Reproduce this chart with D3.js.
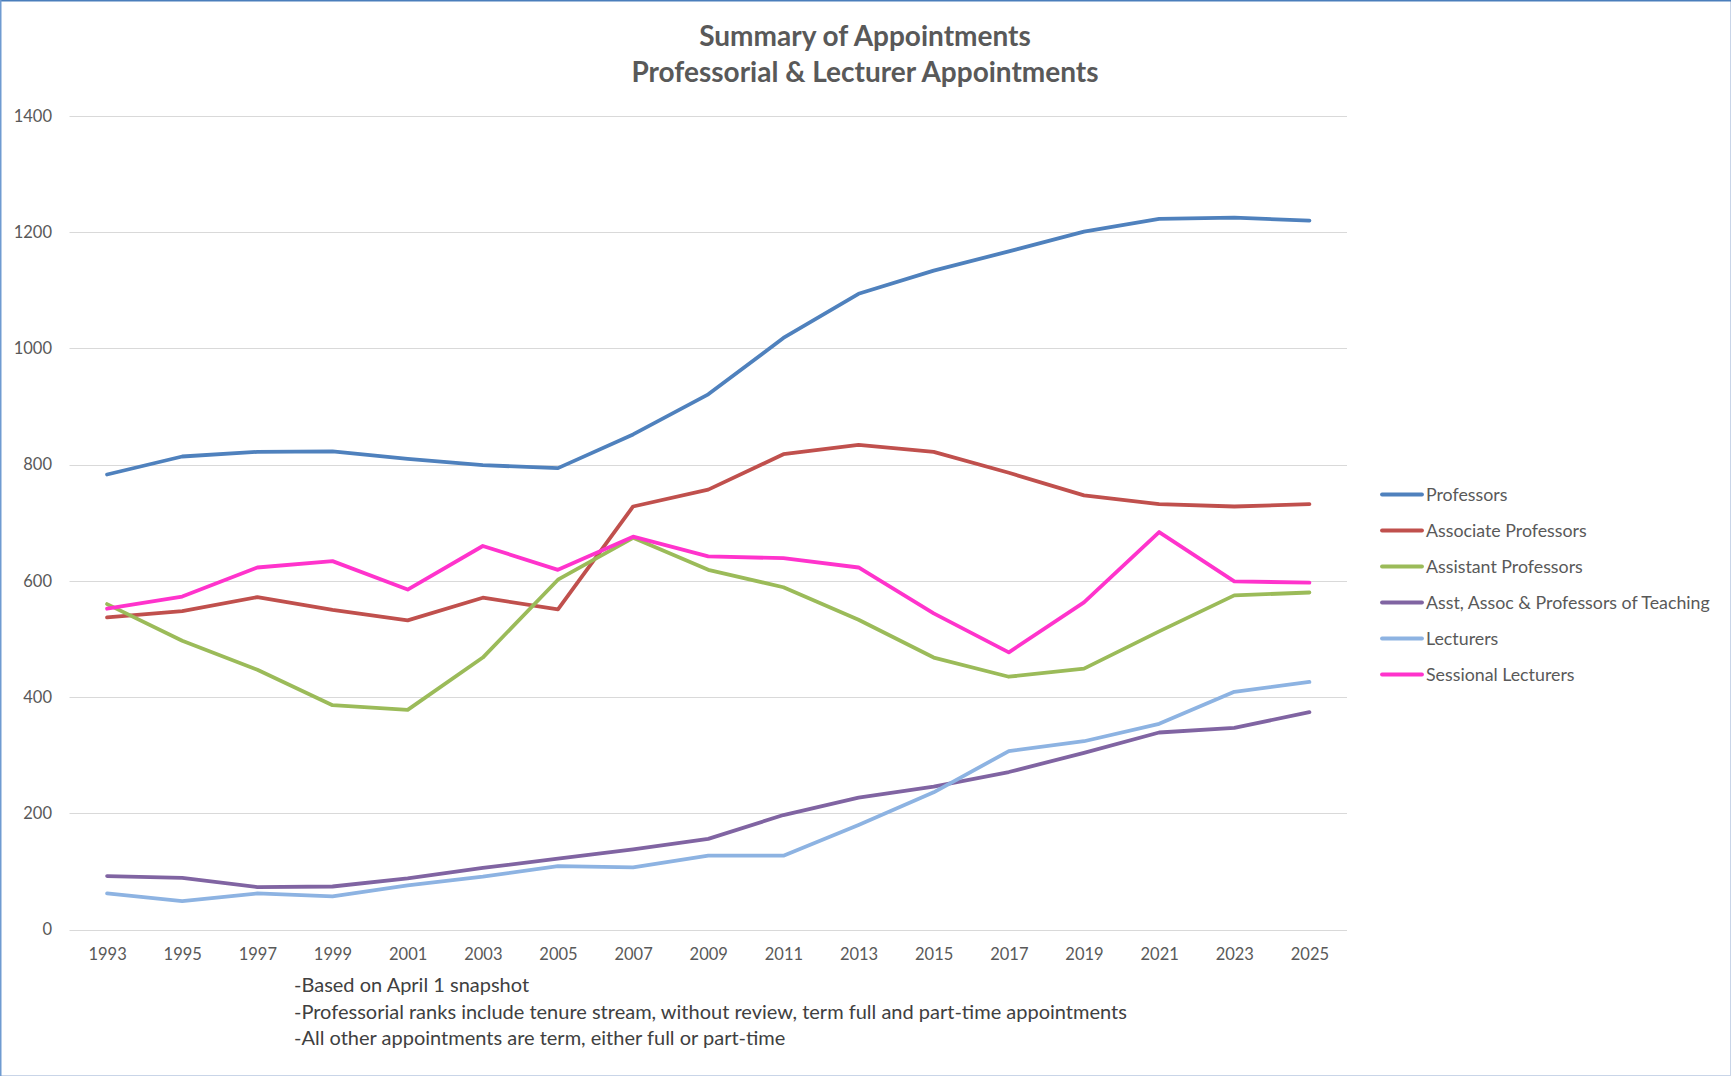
<!DOCTYPE html>
<html>
<head>
<meta charset="utf-8">
<script src="https://cdn.jsdelivr.net/npm/d3@7/dist/d3.min.js"></script>
<style>
html,body{margin:0;padding:0;background:#fff;}
svg{display:block;}
text{font-family:Lato,"Open Sans",sans-serif;}
</style>
</head>
<body>
<svg id="chart" width="1731" height="1076"></svg>
<script>
const years = ["1993","1995","1997","1999","2001","2003","2005","2007","2009","2011","2013","2015","2017","2019","2021","2023","2025"];
const yTicks = [0,200,400,600,800,1000,1200,1400];

const seriesNames = ["Professors","Associate Professors","Assistant Professors","Asst, Assoc & Professors of Teaching","Lecturers","Sessional Lecturers"];
const seriesColors = ["#4f81bd","#c0504d","#9bbb59","#8064a2","#8db3e2","#ff33cc"];

const professors = [783,814,822,823,810,799,794,852,921,1018,1094,1134,1167,1201,1223,1225,1220];
const associateProfessors = [537,548,572,550,532,571,551,728,757,818,834,822,786,747,732,728,732];
const assistantProfessors = [560,497,447,386,378,468,602,674,619,589,533,468,435,449,513,575,580];
const teachingProfessors = [92,89,73,74,88,106,122,138,156,197,227,246,271,304,339,347,374];
const lecturers = [62,49,62,57,76,91,109,107,127,127,180,236,307,324,354,409,426];
const sessionalLecturers = [552,573,623,634,585,660,619,676,642,639,623,544,477,563,684,599,597];

const seriesValues = [professors, associateProfessors, assistantProfessors, teachingProfessors, lecturers, sessionalLecturers];

const titleLines = ["Summary of Appointments","Professorial & Lecturer Appointments"];
const notes = ["-Based on April 1 snapshot","-Professorial ranks include tenure stream, without review, term full and part-time appointments","-All other appointments are term, either full or part-time"];

const svg = d3.select("#chart");
const W = 1731, H = 1076;

// border
svg.append("rect").attr("x",0.5).attr("y",0.5).attr("width",W-1).attr("height",H-1)
  .attr("fill","#fff").attr("stroke","#c9d5e8").attr("stroke-width",1);
svg.append("line").attr("x1",0).attr("x2",W).attr("y1",0.75).attr("y2",0.75).attr("stroke","#4a7ebb").attr("stroke-width",1.5);
svg.append("line").attr("x1",0.75).attr("x2",0.75).attr("y1",0).attr("y2",H).attr("stroke","#6f9bd1").attr("stroke-width",1.5);

const x = d3.scalePoint().domain(years).range([69.5,1347]).padding(0.5);
const y = d3.scaleLinear().domain([0,1400]).range([929.5,116]);

// gridlines
svg.append("g").selectAll("line").data(yTicks).join("line")
  .attr("x1",69.5).attr("x2",1347)
  .attr("y1",d=>Math.round(y(d))+0.5).attr("y2",d=>Math.round(y(d))+0.5)
  .attr("stroke","#d9d9d9").attr("stroke-width",1.2);

// y axis labels
const yAxis = d3.axisLeft(y).tickValues(yTicks).tickSize(0).tickPadding(0).tickFormat(d3.format("d"));
const gy = svg.append("g").attr("transform","translate(52,0)").call(yAxis);
gy.select(".domain").remove();
gy.selectAll("text").attr("fill","#595959").style("font-size","16.5px").style("font-family","Lato,sans-serif");

// x axis labels
const xAxis = d3.axisBottom(x).tickSize(0).tickPadding(0);
const gx = svg.append("g").attr("transform","translate(0,948.5)").call(xAxis);
gx.select(".domain").remove();
gx.selectAll("text").attr("fill","#595959").style("font-size","16.5px").style("font-family","Lato,sans-serif");

// lines
const line = d3.line().x((d,i)=>x(years[i])).y(d=>y(d));
svg.append("g").selectAll("path").data(seriesValues).join("path")
  .attr("d",d=>line(d)).attr("fill","none")
  .attr("stroke",(d,i)=>seriesColors[i]).attr("stroke-width",3.8)
  .attr("stroke-linejoin","round").attr("stroke-linecap","round");

// title
svg.append("g").selectAll("text").data(titleLines).join("text")
  .attr("x",865).attr("y",(d,i)=>46+i*36)
  .attr("text-anchor","middle").attr("fill","#595959")
  .style("font-size","28px").style("font-weight","bold").text(d=>d);

// legend
const lg = svg.append("g").selectAll("g").data(seriesNames).join("g")
  .attr("transform",(d,i)=>`translate(1380,${494.5+i*36})`);
lg.append("line").attr("x1",2).attr("x2",42).attr("y1",0).attr("y2",0)
  .attr("stroke",(d,i)=>seriesColors[i]).attr("stroke-width",3.8).attr("stroke-linecap","round");
lg.append("text").attr("x",46).attr("y",0).attr("dy","0.35em")
  .attr("fill","#595959").style("font-size","17.8px").text(d=>d);

// notes
svg.append("g").selectAll("text").data(notes).join("text")
  .attr("x",294).attr("y",(d,i)=>992+i*26.5)
  .attr("fill","#404040").style("font-size","20px").text(d=>d);
</script>
</body>
</html>
